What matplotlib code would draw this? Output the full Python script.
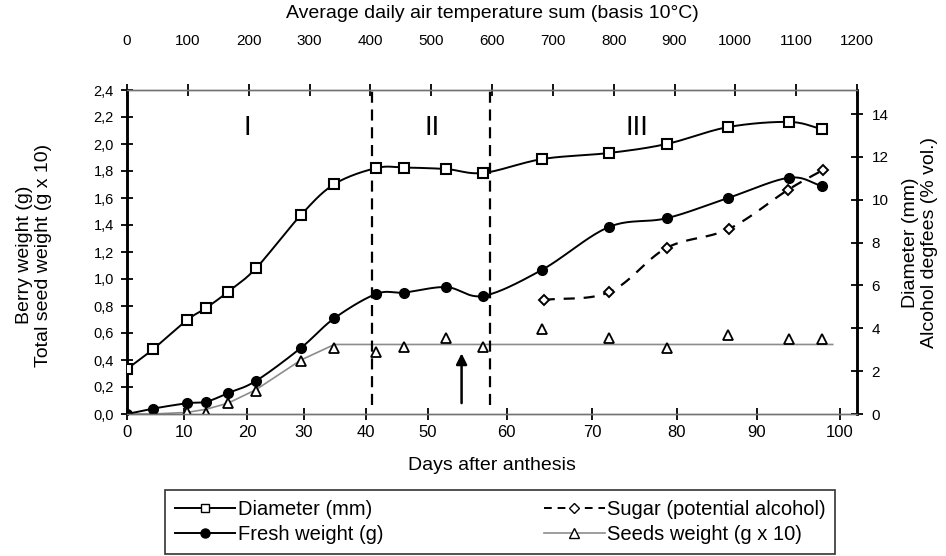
import numpy as np
import matplotlib
matplotlib.use("Agg")
import matplotlib.pyplot as plt
from matplotlib.lines import Line2D

plt.rcParams['font.family'] = ['Liberation Sans', 'DejaVu Sans']

# x positions are the temperature sum (basis 10 C)
temp_sum = [0, 43, 99, 130, 166, 212, 286, 341, 410, 456, 525, 586,
            683, 792, 887, 988, 1088, 1142]
diameter_mm = [2.1, 3.03, 4.39, 4.95, 5.7, 6.8, 9.29, 10.73, 11.48, 11.5,
               11.43, 11.25, 11.9, 12.18, 12.6, 13.39, 13.63, 13.3]
fresh_weight = [0.0, 0.04, 0.08, 0.09, 0.155, 0.245, 0.49, 0.71, 0.89, 0.90,
                0.94, 0.875, 1.07, 1.385, 1.45, 1.60, 1.75, 1.69]
seeds_weight = [0.0, 0.0, 0.015, 0.01, 0.08, 0.17, 0.39, 0.49, 0.46, 0.50,
                0.56, 0.50, 0.63, 0.56, 0.49, 0.585, 0.555, 0.555]

sugar_temp = [685, 793, 887, 989, 1086, 1144]
sugar_alcohol = [5.32, 5.69, 7.75, 8.63, 10.45, 11.39]

# fitted seed line (rise then plateau)
seeds_fit_temp = [0, 43, 99, 130, 166, 212, 286, 341, 1160]
seeds_fit = [0.0, 0.0, 0.012, 0.035, 0.08, 0.18, 0.40, 0.515, 0.515]

# phase borders, veraison arrow
phase_temp = [403, 596]
phase_labels = ['I', 'II', 'III']
phase_label_temp = [198, 502, 838]
arrow_temp = 550

# days after anthesis -> position on temperature sum axis
day_ticks = [0, 10, 20, 30, 40, 50, 60, 70, 80, 90, 100]
day_tick_temp = [0, 94, 198, 291, 393, 494, 624, 765, 904, 1035, 1172]
temp_ticks = list(range(0, 1300, 100))
left_ticks = [0.0, 0.2, 0.4, 0.6, 0.8, 1.0, 1.2, 1.4, 1.6, 1.8, 2.0, 2.2, 2.4]
left_labels = ['0,0', '0,2', '0,4', '0,6', '0,8', '1,0', '1,2', '1,4', '1,6',
               '1,8', '2,0', '2,2', '2,4']
right_ticks = [0, 2, 4, 6, 8, 10, 12, 14]


def smooth(x, y, n=24):
    # Catmull-Rom curve through the points, like the spreadsheet "smoothed line"
    pts = np.column_stack([x, y]).astype(float)
    p = np.vstack([2 * pts[0] - pts[1], pts, 2 * pts[-1] - pts[-2]])
    t = np.linspace(0, 1, n)[:, None]
    segs = []
    for i in range(1, len(p) - 2):
        p0, p1, p2, p3 = p[i - 1], p[i], p[i + 1], p[i + 2]
        segs.append(0.5 * (2 * p1 + (-p0 + p2) * t
                           + (2 * p0 - 5 * p1 + 4 * p2 - p3) * t ** 2
                           + (-p0 + 3 * p1 - 3 * p2 + p3) * t ** 3))
    s = np.vstack(segs)
    return s[:, 0], s[:, 1]


fig = plt.figure(figsize=(9.46, 5.56), dpi=100)
ax = fig.add_axes([127 / 946, 1 - 414 / 556, 730 / 946, 324 / 556])
ax2 = ax.twinx()

ax.set_xlim(0, 1200)
ax.set_ylim(0, 2.4)
ax2.set_ylim(0, 15.12)

# seeds
ax.plot(seeds_fit_temp, seeds_fit, color='0.55', lw=1.2, zorder=2)
ax.plot(temp_sum, seeds_weight, ls='none', marker='^', ms=7, mfc='white',
        mec='black', mew=1.3, zorder=4)

# fresh weight
sx, sy = smooth(temp_sum, fresh_weight)
ax.plot(sx, sy, color='black', lw=1.4, zorder=3)
ax.plot(temp_sum, fresh_weight, ls='none', marker='o', ms=7, color='black',
        zorder=4)

# diameter and sugar on the right axis
sx, sy = smooth(temp_sum, diameter_mm)
ax2.plot(sx, sy, color='black', lw=1.4, zorder=3)
ax2.plot(temp_sum, diameter_mm, ls='none', marker='s', ms=6.5, mfc='white',
         mec='black', mew=1.5, zorder=4)
sx, sy = smooth(sugar_temp, sugar_alcohol)
ax2.plot(sx, sy, color='black', lw=1.6, ls=(0, (5, 4)), zorder=3)
ax2.plot(sugar_temp, sugar_alcohol, ls='none', marker='D', ms=5.5,
         mfc='white', mec='black', mew=1.4, zorder=4)

# phase lines and labels
for t in phase_temp:
    ax.plot([t, t], [0.07, 2.4], color='black', lw=1.6, ls=(0, (5, 3)),
            zorder=2)
for t, lab in zip(phase_label_temp, phase_labels):
    ax.text(t, 2.12, lab, ha='center', va='center', fontsize=20)
ax.annotate('', xy=(arrow_temp, 0.47), xytext=(arrow_temp, 0.06),
            arrowprops=dict(arrowstyle='-|>', color='black', lw=1.8,
                            mutation_scale=16))

# axes styling
for a in (ax, ax2):
    a.spines['left'].set_linewidth(1.8)
    a.spines['right'].set_linewidth(1.8)
    a.spines['top'].set_color('0.45')
    a.spines['bottom'].set_color('0.45')
    a.spines['top'].set_linewidth(1.0)
    a.spines['bottom'].set_linewidth(1.0)

ax.set_yticks(left_ticks)
ax.set_yticklabels(left_labels)
ax.tick_params(axis='y', direction='inout', length=9, width=1.3,
               labelsize=10.5, pad=5)
ax2.set_yticks(right_ticks)
ax2.tick_params(axis='y', direction='inout', length=9, width=1.3,
                labelsize=11, pad=6)

ax.set_xticks(day_tick_temp)
ax.set_xticklabels([str(d) for d in day_ticks])
ax.tick_params(axis='x', direction='inout', length=9, width=1.3,
               labelsize=12, pad=3.5)
ax.set_xlabel('Days after anthesis', fontsize=14, labelpad=12)

top = ax.secondary_xaxis('top')
top.set_xticks(temp_ticks)
top.tick_params(axis='x', direction='inout', length=9, width=1.3,
                labelsize=11, pad=26)
top.spines['top'].set_visible(False)
top.set_xlabel('Average daily air temperature sum (basis 10°C)',
               fontsize=14, labelpad=11)

fig.text(34 / 946, 1 - 255 / 556, 'Berry weight (g)\nTotal seed weight (g x 10)',
         rotation=90, ha='center', va='center', fontsize=14,
         multialignment='center', linespacing=1.1)
fig.text(920 / 946, 1 - 243 / 556, 'Diameter (mm)\nAlcohol degfees (% vol.)',
         rotation=90, ha='center', va='center', fontsize=14,
         multialignment='center', linespacing=1.1)

handles = [
    Line2D([], [], color='black', lw=1.4, marker='s', ms=6, mfc='white',
           mec='black'),
    Line2D([], [], color='black', lw=1.4, marker='o', ms=6.5),
    Line2D([], [], color='black', lw=1.4, ls=(0, (4, 3)), marker='D', ms=5,
           mfc='white', mec='black'),
    Line2D([], [], color='0.55', lw=1.2, marker='^', ms=6.5, mfc='white',
           mec='black'),
]
labels = ['Diameter (mm)', 'Fresh weight (g)', 'Sugar (potential alcohol)',
          'Seeds weight (g x 10)']
leg = fig.legend(handles, labels, loc='upper left', ncol=2, fontsize=14.5,
                 bbox_to_anchor=(165 / 946, 1 - 490 / 556), frameon=True,
                 fancybox=False, edgecolor='black', handlelength=3.0,
                 handletextpad=0.1, columnspacing=8.0, labelspacing=0.3,
                 borderpad=0.5, borderaxespad=0)
leg.get_frame().set_linewidth(1.2)

fig.savefig('out.png', dpi=100)
